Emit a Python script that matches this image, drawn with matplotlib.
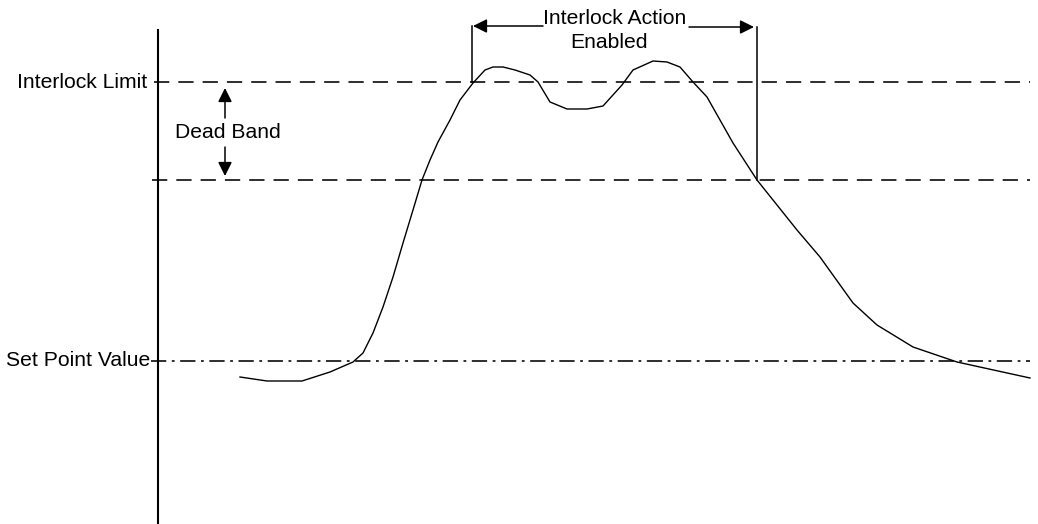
import matplotlib
matplotlib.use('Agg')
import matplotlib.pyplot as plt

plt.rcParams['font.family'] = ['Liberation Sans', 'DejaVu Sans']
plt.rcParams['lines.scale_dashes'] = False

# process curve (picture coordinates, y grows downward)
curve_x = [240, 267, 302, 330, 353, 363, 373, 383, 393, 403, 413, 422, 430, 438,
           450, 460, 473, 485, 493, 503, 515, 530, 538, 550, 567, 587, 603, 622,
           633, 653, 667, 680, 693, 707, 733, 757, 797, 820, 853, 877, 913, 957, 1030]
curve_y = [377, 381, 381, 372, 362, 353, 333, 307, 277, 243, 210, 180, 160, 142,
           120, 100, 83, 70, 67, 67, 70, 75, 82, 102, 109, 109, 106, 85,
           70, 61, 62, 67, 82, 97, 143, 180, 230, 257, 303, 325, 347, 362, 378]

# levels
interlock_limit = 82
dead_band_low = 180
set_point = 361

# interlock action window
action_start = 472
action_end = 757

fig = plt.figure(figsize=(10.38, 5.24), dpi=100)
ax = fig.add_axes([0, 0, 1, 1])
ax.set_xlim(0, 1038)
ax.set_ylim(524, 0)
ax.axis('off')

# vertical axis
ax.plot([158, 158], [30, 524], color='black', lw=1.5)

# horizontal reference lines
ax.plot([154, 1030], [interlock_limit, interlock_limit], color='black', lw=1.15,
        dashes=(11, 6.5))
ax.plot([152, 1030], [dead_band_low, dead_band_low], color='black', lw=1.15,
        dashes=(11, 6.5))
ax.plot([151, 1030], [set_point, set_point], color='black', lw=1.15,
        dashes=(11, 4, 2, 4))

# curve
ax.plot(curve_x, curve_y, color='black', lw=1.0)

# interlock window verticals
ax.plot([action_start, action_start], [26, interlock_limit], color='black', lw=1.1)
ax.plot([action_end, action_end], [27, dead_band_low], color='black', lw=1.1)

arrow = dict(arrowstyle='-|>', color='black', lw=1.1, mutation_scale=21,
             shrinkA=0, shrinkB=0)
ax.annotate('', xy=(action_start + 1, 26), xytext=(543, 26), arrowprops=arrow)
ax.annotate('', xy=(action_end - 3, 27), xytext=(689, 27), arrowprops=arrow)

# dead band arrows
ax.annotate('', xy=(225, 88), xytext=(225, 118), arrowprops=arrow)
ax.annotate('', xy=(225, 176), xytext=(225, 147), arrowprops=arrow)

fs = 15.2
ax.text(147, interlock_limit, 'Interlock Limit', ha='right', va='center', fontsize=fs)
ax.text(150, set_point, 'Set Point Value', ha='right', va='center', fontsize=fs)
ax.text(228, 133, 'Dead Band', ha='center', va='center', fontsize=fs)
ax.text(615, 19, 'Interlock Action', ha='center', va='center', fontsize=fs)
ax.text(609, 42, 'Enabled', ha='center', va='center', fontsize=fs)

fig.savefig('out.png', dpi=100)
